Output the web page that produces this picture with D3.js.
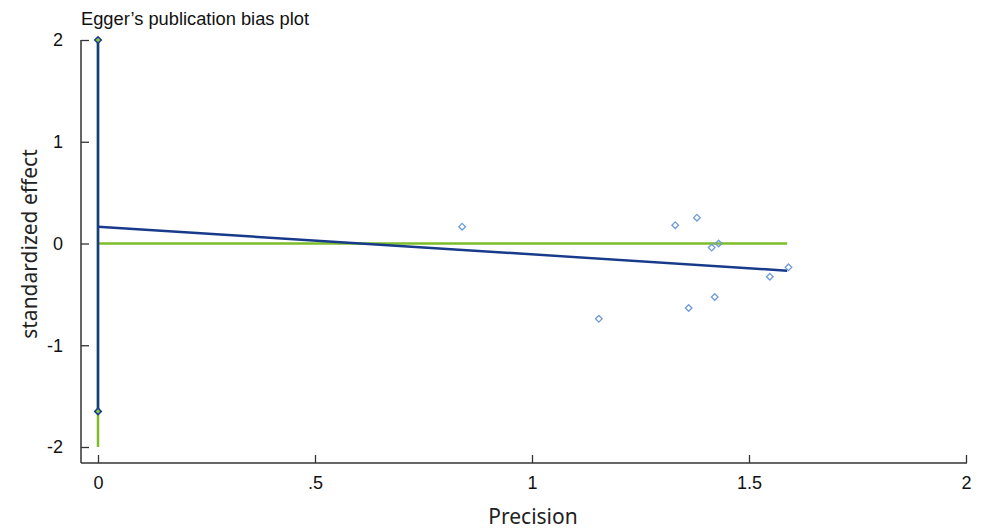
<!DOCTYPE html>
<html><head><meta charset="utf-8">
<script src="https://cdn.jsdelivr.net/npm/d3@7"></script>
<style>body{margin:0;background:#fff}</style>
</head><body>
<svg id="c" width="989" height="528"></svg>
<script>
const title = "Egger’s publication bias plot";
const xLabel = "Precision";
const yLabel = "standardized effect";
const xTicks = [0, 0.5, 1, 1.5, 2];
const xTickLabels = ["0", ".5", "1", "1.5", "2"];
const yTicks = [-2, -1, 0, 1, 2];
const yTickLabels = ["-2", "-1", "0", "1", "2"];
const precision = [0.839, 1.154, 1.330, 1.380, 1.361, 1.414, 1.430, 1.421, 1.548, 1.591];
const stdEffect = [0.165, -0.74, 0.18, 0.254, -0.634, -0.04, 0.00, -0.526, -0.326, -0.234];
const fitX = [0, 1.588];
const fitY = [0.165, -0.267];
const nullX = [0, 1.588];
const nullY = [0, 0];
const ciX = [0, 0];
const ciY = [2, -1.65];
const nullCiY = [2, -2];

const svg = d3.select("#c");
const x = d3.scaleLinear().domain([0, 2]).range([98, 966]);
const y = d3.scaleLinear().domain([-2, 2]).range([447, 40]);
const axisFont = "Liberation Sans, Arial, sans-serif";

svg.append("line").attr("x1", 81).attr("x2", 967).attr("y1", 463).attr("y2", 463).attr("stroke", "#333").attr("stroke-width", 1.5);
svg.append("line").attr("x1", 81).attr("x2", 81).attr("y1", 40).attr("y2", 463).attr("stroke", "#333").attr("stroke-width", 1.5);

const xa = svg.append("g").attr("transform", "translate(0,463)")
  .call(d3.axisBottom(x).tickValues(xTicks).tickFormat((d, i) => xTickLabels[i]).tickSize(-8).tickPadding(13));
xa.select(".domain").remove();
xa.selectAll("line").attr("stroke", "#333").attr("stroke-width", 1.3);
xa.selectAll("text").attr("font-family", axisFont).attr("font-size", 18).attr("fill", "#111");

const ya = svg.append("g").attr("transform", "translate(81,0)")
  .call(d3.axisLeft(y).tickValues(yTicks).tickFormat((d, i) => yTickLabels[i]).tickSize(-8).tickPadding(18));
ya.select(".domain").remove();
ya.selectAll("line").attr("stroke", "#333").attr("stroke-width", 1.3);
ya.selectAll("text").attr("font-family", axisFont).attr("font-size", 18).attr("fill", "#111");

svg.append("line").attr("x1", x(ciX[0])).attr("x2", x(ciX[1])).attr("y1", y(nullCiY[0])).attr("y2", y(nullCiY[1]))
  .attr("stroke", "#7dbd2a").attr("stroke-width", 2.5);
svg.append("line").attr("x1", x(nullX[0])).attr("x2", x(nullX[1])).attr("y1", y(nullY[0])).attr("y2", y(nullY[1]))
  .attr("stroke", "#7dbd2a").attr("stroke-width", 2.5);
svg.append("line").attr("x1", x(ciX[0])).attr("x2", x(ciX[1])).attr("y1", y(ciY[0])).attr("y2", y(ciY[1]))
  .attr("stroke", "#173a8a").attr("stroke-width", 2.5);
svg.append("line").attr("x1", x(fitX[0])).attr("x2", x(fitX[1])).attr("y1", y(fitY[0])).attr("y2", y(fitY[1]))
  .attr("stroke", "#173a8a").attr("stroke-width", 2.5);

const diamond = d3.symbol().type(d3.symbolDiamond2).size(28);
svg.append("g").selectAll("path").data(ciY).join("path")
  .attr("d", diamond).attr("transform", d => `translate(${x(0)},${y(d)})`)
  .attr("fill", "#8cc63f").attr("stroke", "#173a8a").attr("stroke-width", 1.5);

svg.append("g").selectAll("path").data(precision).join("path")
  .attr("d", diamond).attr("transform", (d, i) => `translate(${x(d)},${y(stdEffect[i])})`)
  .attr("fill", "none").attr("stroke", "#6f9bd8").attr("stroke-width", 1.3);

svg.append("text").attr("x", 81).attr("y", 25).text(title)
  .attr("font-family", axisFont).attr("font-size", 18.3).attr("fill", "#111");
svg.append("text").attr("x", 533).attr("y", 523.5).attr("text-anchor", "middle").text(xLabel)
  .attr("font-family", "Noto Sans, sans-serif").attr("font-size", 21).attr("fill", "#222");
svg.append("text").attr("transform", "translate(37,244) rotate(-90)").attr("text-anchor", "middle").text(yLabel)
  .attr("font-family", "Noto Sans, sans-serif").attr("font-size", 21).attr("fill", "#222");
</script>
</body></html>
